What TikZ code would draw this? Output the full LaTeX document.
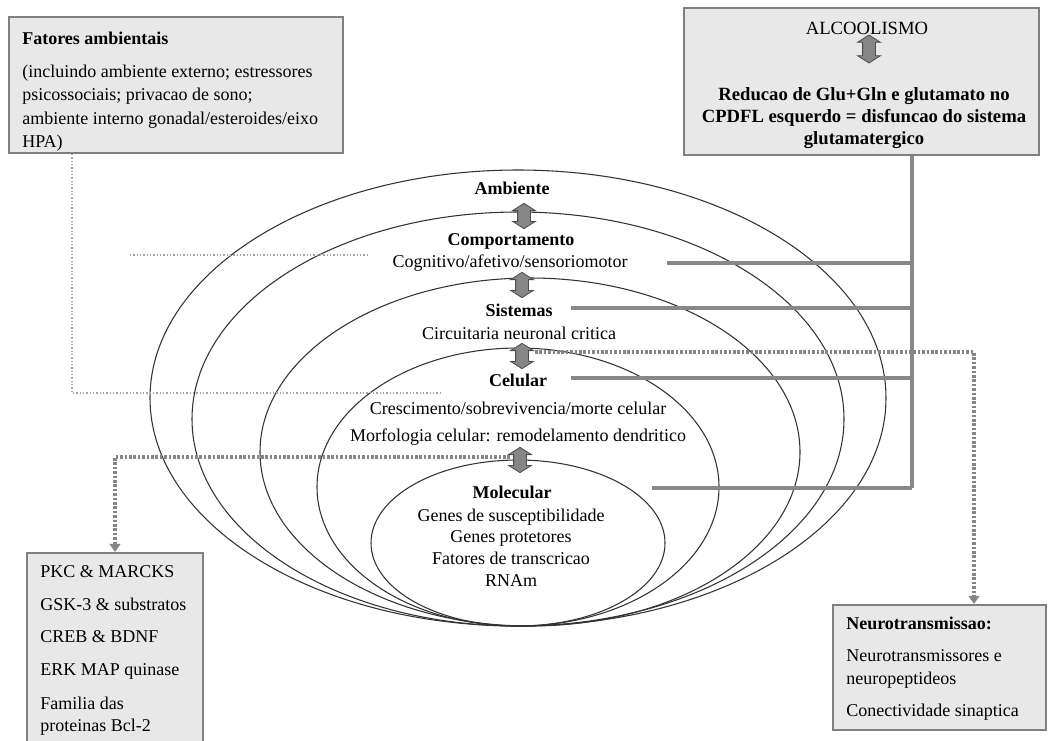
\documentclass[tikz,border=0pt]{standalone}
\usepackage{fontspec}
\setmainfont{Liberation Serif}
\usetikzlibrary{positioning,fit,shapes.arrows,arrows.meta}

\definecolor{boxfill}{HTML}{E8E8E8}
\definecolor{boxline}{HTML}{808080}
\definecolor{linkgray}{HTML}{888888}
\definecolor{ringline}{HTML}{333333}

\begin{document}
\begin{tikzpicture}%
	[x=0.75pt, y=-0.75pt,
	every node/.style={font=\fontsize{13.5}{17}\selectfont, inner sep=0pt},
	box/.style={draw=boxline, fill=boxfill, line width=1.6pt, inner sep=0pt},
	title/.style={font=\fontsize{13.5}{17}\selectfont\bfseries},
	ring/.style={draw=ringline, line width=0.8pt},
	dbl/.style={double arrow, shape border rotate=90, draw=gray!60!black, fill=gray!95, line width=0.6pt,
		minimum height=19pt, inner xsep=4.5pt, inner ysep=0pt, double arrow head extend=3.75pt,
		double arrow tip angle=115},
	link/.style={draw=linkgray, line width=2.4pt},
	thindot/.style={draw=gray!70, line width=1pt, dash pattern=on 1pt off 1.5pt},
	thickdot/.style={draw=gray!95, line width=2.6pt, dash pattern=on 2pt off 1.3pt,
		-{Triangle[width=8pt,length=6pt]}}]
	\useasboundingbox (0,0) rectangle (1049,740);

	% niveis (elipses)
	\draw[ring] (518,398) ellipse [x radius=368, y radius=228];
	\draw[ring] (518,419) ellipse [x radius=326, y radius=207];
	\draw[ring] (530,452) ellipse [x radius=270, y radius=174];
	\draw[ring] (518,487) ellipse [x radius=201, y radius=139];
	\draw[ring] (518,543) ellipse [x radius=147, y radius=83];

	% textos dos niveis
	\node[title] (ambT) at (512,188) {Ambiente};
	\node[dbl] (arr1) at (524,216) {};
	\node[title] (compT) at (511,241) {Comportamento};
	\node (compB) at (510,263) {Cognitivo/afetivo/sensoriomotor};
	\node[dbl] (arr2) at (522,285) {};
	\node[title] (sisT) at (519,310) {Sistemas};
	\node (sisB) at (519,333) {Circuitaria neuronal critica};
	\node[dbl] (arr3) at (522,356) {};
	\node[title] (celT) at (518,380) {Celular};
	\node[align=center, font=\fontsize{13.5}{20}\selectfont] (celB) at (518,423.5)
		{Crescimento/sobrevivencia/morte celular\\Morfologia celular: remodelamento dendritico};
	\node[dbl] (arr4) at (520,460) {};
	\node[title] (molT) at (512,492) {Molecular};
	\node[align=center, font=\fontsize{13.5}{16.3}\selectfont] (molB) at (511,547.5)
		{Genes de susceptibilidade\\Genes protetores\\Fatores de transcricao\\RNAm};

	% caixas
	\node[box, fit={(9,17) (343,153)}] (fatores) {};
	\node[title, anchor=west] (fatoresT) at (22,38) {Fatores ambientais};
	\node[align=left, anchor=west, font=\fontsize{13.5}{17.5}\selectfont] (fatoresB) at (22,108)
		{(incluindo ambiente externo; estressores\\psicossociais; privacao de sono;\\ambiente interno gonadal/esteroides/eixo\\HPA)};

	\node[box, fit={(684,8) (1039,155)}] (alcool) {};
	\node[font=\fontsize{14}{17}\selectfont] (alcoolT) at (867,28) {ALCOOLISMO};
	\node[dbl, minimum height=21pt] (alcoolA) at (869,49) {};
	\node[align=center, font=\fontsize{14}{16.2}\selectfont\bfseries] (alcoolB) at (864,118)
		{Reducao de Glu+Gln e glutamato no\\CPDFL esquerdo = disfuncao do sistema\\glutamatergico};

	\node[box, fit={(27,553) (203,752)}] (vias) {};
	\node[align=left, anchor=west, font=\fontsize{13.5}{16.5}\selectfont] (viasB) at (40,650.5)
		{PKC \& MARCKS\\[8pt]GSK-3 \& substratos\\[8pt]CREB \& BDNF\\[8pt]ERK MAP quinase\\[9pt]Familia das\\proteinas Bcl-2};

	\node[box, fit={(833,605) (1046,730)}] (neuro) {};
	\node[title, anchor=west] (neuroT) at (846,623) {Neurotransmissao:};
	\node[align=left, anchor=west, font=\fontsize{13.5}{17}\selectfont] (neuroB) at (846,685)
		{Neurotransmissores e\\neuropeptideos\\[7.5pt]Conectividade sinaptica};

	% ligacoes do alcoolismo
	\coordinate (trunk) at (912,488);
	\coordinate (compL) at (667,263);
	\coordinate (sisL) at (571,308);
	\coordinate (celL) at (571,378);
	\coordinate (molL) at (652,488);
	\draw[link] (alcool.south -| trunk) -- (trunk);
	\draw[link] (compL) -- (compL -| trunk);
	\draw[link] (sisL) -- (sisL -| trunk);
	\draw[link] (celL) -- (celL -| trunk);
	\draw[link] (molL) -- (trunk);

	% fatores ambientais
	\coordinate (envA) at (130,255);
	\coordinate (envB) at (370,255);
	\coordinate (envC) at (72,393);
	\coordinate (envD) at (440,393);
	\draw[thindot] (fatores.south -| envC) -- (envC) -- (envD);
	\draw[thindot] (envA) -- (envB);

	% setas pontilhadas
	\coordinate (celDot) at (510,457);
	\coordinate (sisDot) at (535,352);
	\draw[thickdot] (celDot) -| (vias.north -| 115,0);
	\draw[thickdot] (sisDot) -| (neuro.north -| 974,0);
\end{tikzpicture}
\end{document}
